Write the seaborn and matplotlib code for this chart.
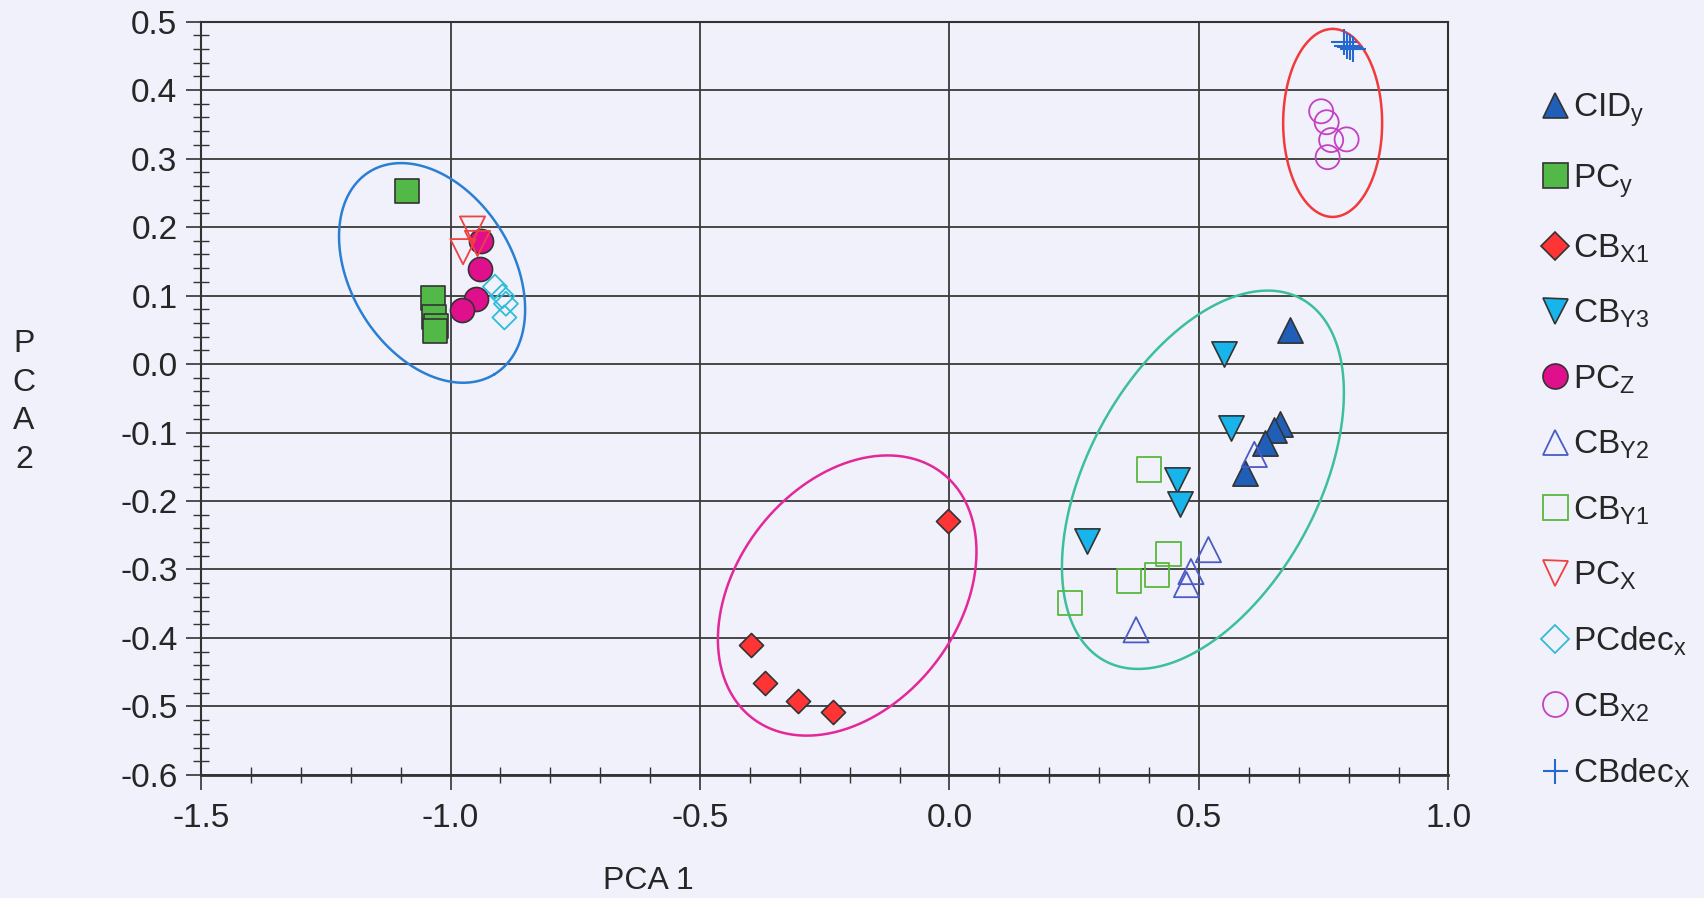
import numpy as np
import pandas as pd
import matplotlib
matplotlib.use("Agg")
from matplotlib import pyplot as plt
from matplotlib.ticker import MultipleLocator, FormatStrFormatter
from matplotlib.lines import Line2D
import seaborn as sns

# series (PCA 1, PCA 2)
cid_y_x = [0.683, 0.662, 0.650, 0.633, 0.593]
cid_y_y = [0.050, -0.087, -0.097, -0.115, -0.159]
pc_y_x = [-1.087, -1.035, -1.033, -1.030, -1.032]
pc_y_y = [0.252, 0.097, 0.068, 0.055, 0.048]
cb_x1_x = [-0.002, -0.397, -0.370, -0.303, -0.233]
cb_x1_y = [-0.229, -0.410, -0.465, -0.492, -0.508]
cb_y3_x = [0.551, 0.564, 0.456, 0.462, 0.275]
cb_y3_y = [0.014, -0.093, -0.169, -0.205, -0.259]
pc_z_x = [-0.939, -0.941, -0.949, -0.977]
pc_z_y = [0.179, 0.138, 0.095, 0.079]
cb_y2_x = [0.611, 0.519, 0.484, 0.475, 0.374]
cb_y2_y = [-0.132, -0.271, -0.303, -0.322, -0.388]
cb_y1_x = [0.400, 0.439, 0.416, 0.359, 0.241]
cb_y1_y = [-0.154, -0.278, -0.308, -0.317, -0.349]
pc_x_x = [-0.956, -0.946, -0.975]
pc_x_y = [0.197, 0.176, 0.164]
pcdec_x_x = [-0.911, -0.896, -0.889, -0.892]
pcdec_x_y = [0.113, 0.099, 0.088, 0.068]
cb_x2_x = [0.745, 0.756, 0.796, 0.765, 0.758]
cb_x2_y = [0.369, 0.353, 0.328, 0.327, 0.302]
cbdec_x_x = [0.790, 0.797, 0.803, 0.808]
cbdec_x_y = [0.470, 0.465, 0.463, 0.460]

groups = ["CIDy", "PCy", "CBX1", "CBY3", "PCZ", "CBY2", "CBY1", "PCX", "PCdecx", "CBX2", "CBdecX"]
labels = [r"CID$_\mathregular{y}$", r"PC$_\mathregular{y}$", r"CB$_\mathregular{X1}$",
          r"CB$_\mathregular{Y3}$", r"PC$_\mathregular{Z}$", r"CB$_\mathregular{Y2}$",
          r"CB$_\mathregular{Y1}$", r"PC$_\mathregular{X}$", r"PCdec$_\mathregular{x}$",
          r"CB$_\mathregular{X2}$", r"CBdec$_\mathregular{X}$"]
xs = [cid_y_x, pc_y_x, cb_x1_x, cb_y3_x, pc_z_x, cb_y2_x, cb_y1_x, pc_x_x, pcdec_x_x, cb_x2_x, cbdec_x_x]
ys = [cid_y_y, pc_y_y, cb_x1_y, cb_y3_y, pc_z_y, cb_y2_y, cb_y1_y, pc_x_y, pcdec_x_y, cb_x2_y, cbdec_x_y]

# cluster ellipses: centre (data)
ell_cx = [-1.037, 0.508, -0.205, 0.768]
ell_cy = [0.133, -0.169, -0.338, 0.352]

rows = []
for g, xv, yv in zip(groups, xs, ys):
    for a, b in zip(xv, yv):
        rows.append({"group": g, "PCA 1": a, "PCA 2": b})
df = pd.DataFrame(rows)

styles = {
    "CIDy": dict(marker="^", s=330, color="#1f5fb8", edgecolor="#333333", linewidth=1.2),
    "PCy": dict(marker="s", s=300, color="#52b848", edgecolor="#333333", linewidth=1.2),
    "CBX1": dict(marker="D", s=150, color="#ff3535", edgecolor="#333333", linewidth=1.2),
    "CBY3": dict(marker="v", s=330, color="#18b4ec", edgecolor="#333333", linewidth=1.2),
    "PCZ": dict(marker="o", s=300, color="#e0108c", edgecolor="#333333", linewidth=1.2),
    "CBY2": dict(marker="^", s=330, color="#4a5cc4", facecolor="none", edgecolor="#4a5cc4", linewidth=1.3),
    "CBY1": dict(marker="s", s=300, color="#5ab83c", facecolor="none", edgecolor="#5ab83c", linewidth=1.3),
    "PCX": dict(marker="v", s=330, color="#f04040", facecolor="none", edgecolor="#f04040", linewidth=1.3),
    "PCdecx": dict(marker="D", s=150, color="#30bcd8", facecolor="none", edgecolor="#30bcd8", linewidth=1.3),
    "CBX2": dict(marker="o", s=300, color="#c440c4", facecolor="none", edgecolor="#c440c4", linewidth=1.3),
    "CBdecX": dict(marker="+", s=330, color="#2468d0", linewidth=1.5),
}

sns.set_theme(style="white")
plt.rcParams["font.family"] = ["Liberation Sans", "DejaVu Sans"]
plt.rcParams["mathtext.fontset"] = "custom"
plt.rcParams["mathtext.rm"] = "Liberation Sans"
plt.rcParams["axes.unicode_minus"] = False

bg = "#f1f1fb"
ink = "#262626"
fig, ax = plt.subplots(figsize=(17.04, 8.98), dpi=100)
fig.patch.set_facecolor(bg)
ax.set_facecolor(bg)
fig.subplots_adjust(left=0.118, right=0.850, top=0.976, bottom=0.137)

for g in groups:
    sns.scatterplot(data=df[df.group == g], x="PCA 1", y="PCA 2", ax=ax, legend=False,
                    zorder=3, **styles[g])

ax.set_xlim(-1.5, 1.0)
ax.set_ylim(-0.6, 0.5)
ax.xaxis.set_major_locator(MultipleLocator(0.5))
ax.xaxis.set_minor_locator(MultipleLocator(0.1))
ax.yaxis.set_major_locator(MultipleLocator(0.1))
ax.yaxis.set_minor_locator(MultipleLocator(0.02))
ax.xaxis.set_major_formatter(FormatStrFormatter("%.1f"))
ax.yaxis.set_major_formatter(FormatStrFormatter("%.1f"))
ax.grid(True, which="major", color="#3a3a3a", linewidth=1.3)
ax.set_axisbelow(True)
ax.tick_params(axis="both", which="major", direction="out", length=11, width=1.2,
               color="#333333", labelsize=24, labelcolor=ink)
ax.tick_params(axis="both", which="minor", direction="inout", length=11, width=1.0,
               color="#333333")
ax.tick_params(axis="x", which="major", pad=9)
ax.tick_params(axis="y", which="major", pad=6)
ax.tick_params(left=True, bottom=True, which="both")
for side, sp in ax.spines.items():
    sp.set_color("#333333")
    sp.set_linewidth(1.5)
ax.spines["bottom"].set_linewidth(2.0)

ax.set_xlabel("PCA 1", fontsize=23, color=ink)
ax.xaxis.set_label_coords(0.359, -0.121)
ax.set_ylabel("P\nC\nA\n2", fontsize=23, color=ink, rotation=0,
              linespacing=1.38, va="center", ha="center")
ax.yaxis.set_label_coords(-0.142, 0.495)

# ellipses drawn in pixel units around data centres
bbox = ax.get_window_extent()
sx = bbox.width / 2.5
sy = bbox.height / 1.1
ell_a = [119, 206, 155, 94]
ell_b = [81, 115, 111, 49.5]
ell_ang = [-58.3, 61.5, 52.2, 90]
ell_col = ["#2a7fd2", "#3cbf9a", "#e3289a", "#f23a3a"]
t = np.linspace(0, 2 * np.pi, 400)
for cx, cy, a, b, ang, c in zip(ell_cx, ell_cy, ell_a, ell_b, ell_ang, ell_col):
    th = np.deg2rad(ang)
    dx = a * np.cos(t) * np.cos(th) - b * np.sin(t) * np.sin(th)
    dy = a * np.cos(t) * np.sin(th) + b * np.sin(t) * np.cos(th)
    ax.plot(cx + dx / sx, cy + dy / sy, color=c, linewidth=1.8, zorder=2)

handles = []
for g, lab in zip(groups, labels):
    st = styles[g]
    fc = st.get("facecolor", st["color"])
    ec = st.get("edgecolor", st["color"])
    ms = 18 if st["marker"] != "D" else 14
    handles.append(Line2D([], [], linestyle="none", marker=st["marker"], markersize=ms,
                          markerfacecolor=fc, markeredgecolor=ec,
                          markeredgewidth=st["linewidth"], label=lab))
leg = fig.legend(handles=handles, loc="upper left", bbox_to_anchor=(0.895, 0.913),
                 frameon=False, fontsize=24, labelspacing=0.98, handletextpad=0.05,
                 handlelength=1.0, borderaxespad=0)
for txt in leg.get_texts():
    txt.set_color(ink)

fig.savefig("out.png", dpi=100, facecolor=bg)
